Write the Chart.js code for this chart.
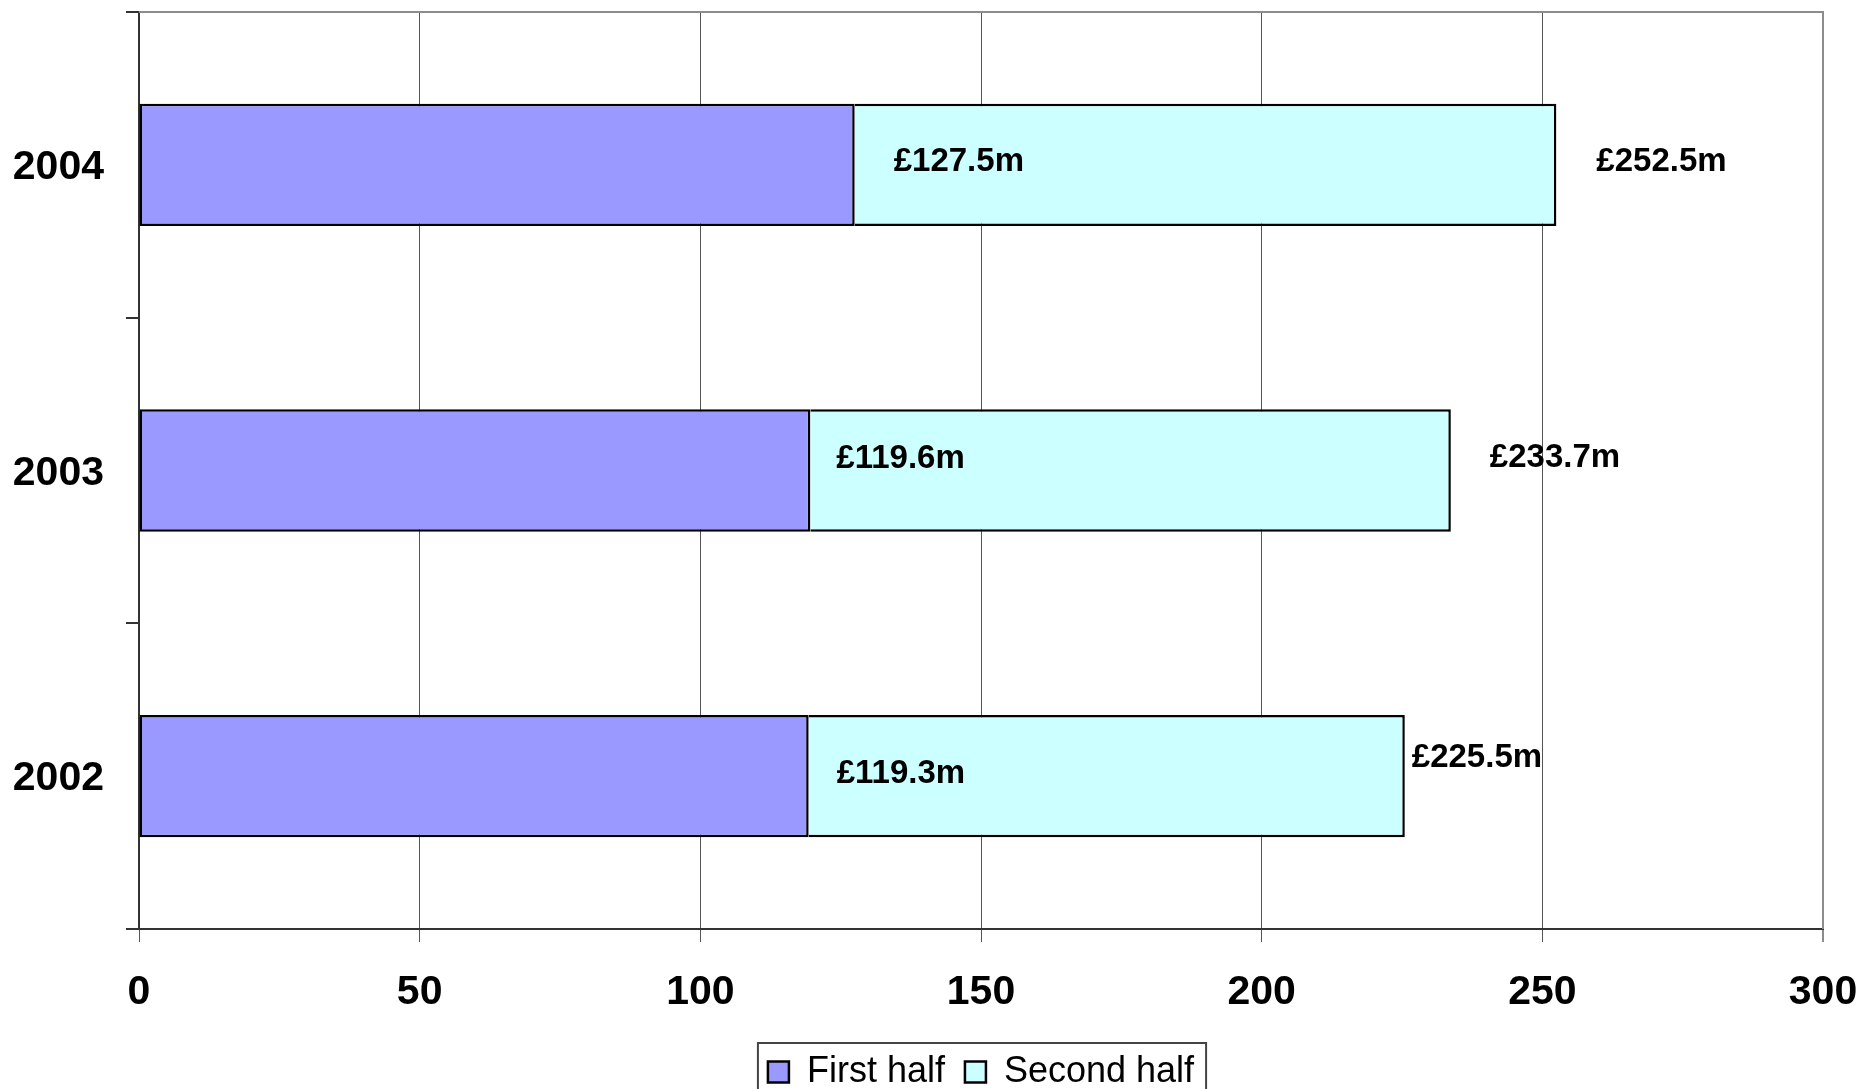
<!DOCTYPE html>
<html><head><meta charset="utf-8">
<script src="https://cdn.jsdelivr.net/npm/chart.js@4/dist/chart.umd.min.js"></script>
<style>html,body{margin:0;padding:0;background:#fff;overflow:hidden}</style>
</head><body>
<canvas id="c" width="1860" height="1089"></canvas>
<script>
// ---- data ----
const categories = ['2002', '2003', '2004'];
const seriesNames = ['First half', 'Second half'];
const firstHalf = [119.3, 119.6, 127.5];
const secondHalf = [106.2, 114.1, 125.0];
const totals = [225.5, 233.7, 252.5];
const xTickValues = [0, 50, 100, 150, 200, 250, 300];

// ---- style ----
const FONT = '"Liberation Sans", Arial, Helvetica, sans-serif';
const innerLabelOffsets = [{dx: 28, dy: -2}, {dx: 26, dy: -12}, {dx: 39, dy: -3}];
const totalLabelOffsets = [{dx: 7, dy: -18}, {dx: 39, dy: -13}, {dx: 40, dy: -3}];
const fmt = v => '£' + v.toFixed(1) + 'm';

const valueLabels = {
  id: 'valueLabels',
  afterDatasetsDraw(chart) {
    const ctx = chart.ctx, xs = chart.scales.x, ys = chart.scales.y;
    ctx.save();
    ctx.font = 'bold 33px ' + FONT;
    ctx.fillStyle = '#000';
    ctx.textAlign = 'left';
    ctx.textBaseline = 'middle';
    categories.forEach((c, i) => {
      const yc = ys.getPixelForValue(i);
      ctx.fillText(fmt(firstHalf[i]), xs.getPixelForValue(firstHalf[i]) + innerLabelOffsets[i].dx, yc + innerLabelOffsets[i].dy);
      ctx.fillText(fmt(totals[i]), xs.getPixelForValue(totals[i]) + totalLabelOffsets[i].dx, yc + totalLabelOffsets[i].dy);
    });
    ctx.restore();
  }
};

const frame = {
  id: 'frame',
  afterDraw(chart) {
    const ctx = chart.ctx, a = chart.chartArea;
    ctx.save();
    ctx.strokeStyle = '#8c8c8c';
    ctx.lineWidth = 2;
    ctx.beginPath();
    ctx.moveTo(a.left, a.top);
    ctx.lineTo(a.right, a.top);
    ctx.lineTo(a.right, a.bottom);
    ctx.stroke();
    // legend frame
    const lg = chart.legend;
    if (lg && lg.legendHitBoxes && lg.legendHitBoxes.length) {
      const hb = lg.legendHitBoxes;
      const l = hb[0].left - 10;
      const last = hb[hb.length - 1];
      const r = last.left + last.width + 12;
      const t = hb[0].top - 11;
      const b = hb[0].top + hb[0].height + 11;
      ctx.strokeStyle = '#444';
      ctx.lineWidth = 2;
      ctx.strokeRect(l, t, r - l, b - t);
    }
    ctx.restore();
  }
};

new Chart(document.getElementById('c'), {
  type: 'bar',
  data: {
    labels: categories,
    datasets: [
      {label: seriesNames[0], data: firstHalf, backgroundColor: '#9999FF', borderColor: '#000', borderWidth: 2.5, borderSkipped: false},
      {label: seriesNames[1], data: secondHalf, backgroundColor: '#CCFFFF', borderColor: '#000', borderWidth: 2.5, borderSkipped: 'start'}
    ]
  },
  options: {
    indexAxis: 'y',
    responsive: false,
    animation: false,
    devicePixelRatio: 1,
    barPercentage: 0.4,
    categoryPercentage: 1.0,
    layout: {padding: {left: 0, top: 12, right: 37, bottom: -11}},
    scales: {
      x: {
        stacked: true,
        min: 0, max: 300,
        afterBuildTicks: s => { s.ticks = xTickValues.map(v => ({value: v})); },
        afterFit: s => { s.height = 105; s.paddingLeft = 0; s.paddingRight = 0; },
        grid: {
          color: ctx => (ctx.tick && ctx.tick.value === 300) ? '#8c8c8c' : '#555',
          lineWidth: ctx => (ctx.tick && ctx.tick.value === 300) ? 2 : 1,
          tickLength: 13,
          drawTicks: true
        },
        border: {color: '#333', width: 2},
        ticks: {color: '#000', font: {family: FONT, size: 41, weight: 'bold'}, padding: 26, maxRotation: 0}
      },
      y: {
        stacked: true,
        reverse: true,
        afterFit: s => { s.width = 139; s.paddingTop = 0; s.paddingBottom = 0; },
        grid: {drawOnChartArea: false, tickLength: 13, color: '#333', lineWidth: 2, offset: true},
        border: {color: '#333', width: 2},
        ticks: {color: '#000', font: {family: FONT, size: 41, weight: 'bold'}, padding: 22, labelOffset: 3}
      }
    },
    plugins: {
      legend: {
        position: 'bottom',
        fullSize: false,
        labels: {
          color: '#000',
          font: {family: FONT, size: 36},
          boxWidth: 21,
          boxHeight: 21,
          padding: 20
        }
      },
      tooltip: {enabled: false}
    }
  },
  plugins: [valueLabels, frame]
});
</script>
</body></html>
